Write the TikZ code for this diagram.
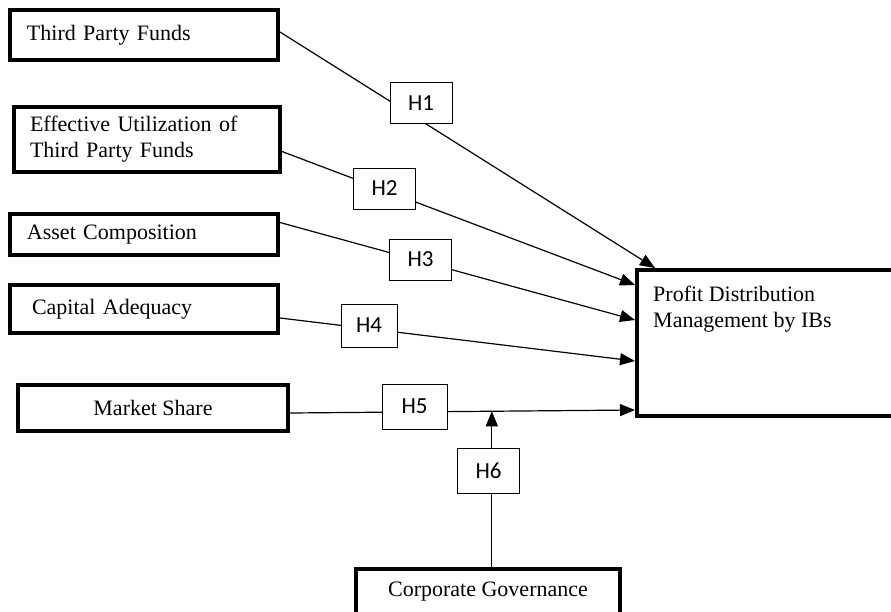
\documentclass[tikz,border=0pt]{standalone}
\usepackage{fontspec}
\setmainfont{Liberation Serif}
\newfontfamily\hfont{Carlito}
\usepackage{tikz}
\usetikzlibrary{arrows.meta}

\begin{document}
\begin{tikzpicture}[
    x=1pt, y=-1pt,
    font=\fontsize{22}{26}\selectfont,
    box/.style={draw, line width=4pt, anchor=north west, inner ysep=0pt},
    var/.style={box, align=left, inner xsep=17pt, text width=234pt},
    hyp/.style={draw, fill=white, line width=0.9pt, inner sep=0pt, font=\hfont\fontsize{23}{26}\selectfont,
        minimum width=62pt, minimum height=41pt},
    arrow/.style={-{Triangle[length=15pt,width=12pt]}, line width=1.2pt}
]
\useasboundingbox (0,0) rectangle (891,611);
\clip (0,0) rectangle (891,611);
\node[var, minimum height=50pt] (tpf) at (8,8) {Third Party Funds};
\node[var, minimum height=65pt, inner xsep=16pt] (eutpf) at (12,105) {Effective Utilization of\\Third Party Funds};
\node[var, minimum height=41pt] (asset) at (8,212) {Asset Composition};
\node[var, minimum height=48pt, inner xsep=22pt, text width=224pt] (capital) at (8,283) {Capital Adequacy};
\node[box, minimum width=270pt, minimum height=46pt] (market) at (16,383) {Market Share};
\node[box, minimum width=266pt, minimum height=146pt,
    label={[anchor=north west, align=left, inner sep=0pt, xshift=18pt, yshift=-18pt]north west:Profit Distribution\\Management by IBs}]
    (profit) at (635,268) {};
\node[box, minimum width=264pt, minimum height=46pt] (corp) at (354,567) {Corporate Governance};
\draw[arrow] ([yshift=3pt]tpf.east) -- ([xshift=20pt]profit.north west);
\draw[arrow] ([yshift=-12pt]eutpf.east) -- ([yshift=-17pt]profit.north west);
\draw[arrow] ([yshift=12pt]asset.east) -- ([yshift=-52pt]profit.north west);
\draw[arrow] ([yshift=-9pt]capital.east) -- ([yshift=-93pt]profit.north west);
\draw[arrow] ([yshift=-5pt]market.east) -- coordinate[pos=0.585] (mod) ([yshift=-142pt]profit.north west);
\draw[arrow] (corp.north -| mod) -- (mod);
\node[hyp] (h1) at (421,103) {H1};
\node[hyp] (h2) at (384.5,188.5) {H2};
\node[hyp] (h3) at (420.5,259.5) {H3};
\node[hyp, minimum width=56pt, minimum height=43pt] (h4) at (369,325.5) {H4};
\node[hyp, minimum width=65pt, minimum height=45pt] (h5) at (414.5,406.5) {H5};
\node[hyp, minimum height=45pt] (h6) at (488.5,470.5) {H6};
\end{tikzpicture}
\end{document}
